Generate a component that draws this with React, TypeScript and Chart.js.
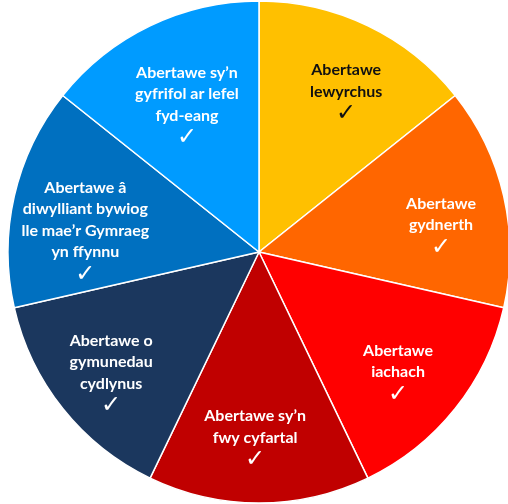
import React, { useEffect, useRef } from "react";
import { Chart, registerables } from "chart.js";

Chart.register(...registerables);

const categories: string[][] = [
  ["Abertawe", "lewyrchus"],
  ["Abertawe", "gydnerth"],
  ["Abertawe", "iachach"],
  ["Abertawe sy\u2019n", "fwy cyfartal"],
  ["Abertawe o", "gymunedau", "cydlynus"],
  ["Abertawe \u00e2", "diwylliant bywiog", "lle mae\u2019r Gymraeg", "yn ffynnu"],
  ["Abertawe sy\u2019n", "gyfrifol ar lefel", "fyd-eang"],
];
const values: number[] = [1, 1, 1, 1, 1, 1, 1];
const colors: string[] = ["#FFC000", "#FF6600", "#FF0000", "#C00000", "#1B375E", "#0070C0", "#009BFF"];
const textColors: string[] = ["#111111", "#FFFFFF", "#FFFFFF", "#FFFFFF", "#FFFFFF", "#FFFFFF", "#FFFFFF"];

// label placement (layout config)
const labelRadius = [182.6, 184, 183.6, 185.5, 191, 175, 163.7];
const labelAngleOffset = [2.8, 4.4, 2.2, 1.2, -0.7, -5.8, -0.4];

const labelPlugin = {
  id: "sliceLabels",
  afterDatasetsDraw(chart: any) {
    const ctx = chart.ctx;
    const meta = chart.getDatasetMeta(0);
    const lh = 21.5;
    meta.data.forEach((arc: any, i: number) => {
      const { x, y, startAngle, endAngle, outerRadius } = arc.getProps(
        ["x", "y", "startAngle", "endAngle", "outerRadius"],
        true
      );
      const mid = (startAngle + endAngle) / 2 + (labelAngleOffset[i] * Math.PI) / 180;
      const r = (labelRadius[i] / 251) * outerRadius;
      const cx = x + Math.cos(mid) * r;
      const cy = y + Math.sin(mid) * r;
      const lines = categories[i];
      const n = lines.length + 1;
      const top = cy - ((n - 1) * lh) / 2;
      ctx.save();
      ctx.textAlign = "center";
      ctx.textBaseline = "middle";
      ctx.fillStyle = textColors[i];
      ctx.font = "bold 16px Lato, 'Open Sans', sans-serif";
      lines.forEach((t, k) => {
        ctx.fillText(t, cx, top + k * lh);
      });
      ctx.font = "24px 'DejaVu Sans', sans-serif";
      ctx.fillText("\u2713", cx, top + lines.length * lh + 1);
      ctx.restore();
    });
  },
};

export default function App() {
  const ref = useRef<HTMLCanvasElement>(null);
  useEffect(() => {
    if (!ref.current) return;
    const chart = new Chart(ref.current, {
      type: "pie",
      data: {
        labels: categories.map((c) => c.join(" ")),
        datasets: [
          {
            data: values,
            backgroundColor: colors,
            borderColor: "#FFFFFF",
            borderWidth: 1.5,
            radius: 251,
          } as any,
        ],
      },
      options: {
        animation: false,
        responsive: false,
        maintainAspectRatio: false,
        layout: { padding: { left: 10, right: 0, top: 0, bottom: 0 } },
        plugins: {
          legend: { display: false },
          tooltip: { enabled: false },
          title: { display: false },
        },
      },
      plugins: [labelPlugin],
    });
    return () => chart.destroy();
  }, []);
  return (
    <div style={{ position: "fixed", left: 0, top: 0, width: 508, height: 504, background: "#fff" }}>
      <canvas ref={ref} width={508} height={504} style={{ display: "block" }} />
    </div>
  );
}
